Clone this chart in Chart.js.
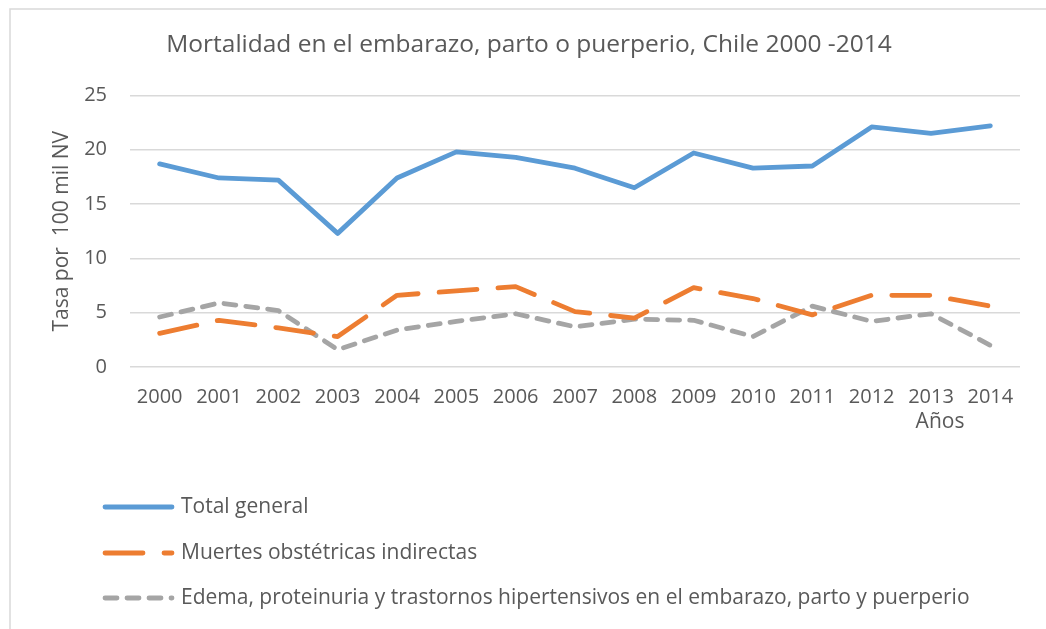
<!DOCTYPE html>
<html>
<head>
<meta charset="utf-8">
<script src="https://cdn.jsdelivr.net/npm/chart.js@4.4.1/dist/chart.umd.min.js"></script>
<style>
  body { margin: 0; background: #fff; }
  #wrap { width: 1046px; height: 629px; position: relative; }
</style>
</head>
<body>
<div id="wrap"><canvas id="chart"></canvas></div>
<script>
/* --------------- Data --------------------- */
const years = ["2000", "2001", "2002", "2003", "2004", "2005", "2006", "2007",
  "2008", "2009", "2010", "2011", "2012", "2013", "2014"];
const totalGeneral = [18.7, 17.4, 17.2, 12.3, 17.4, 19.8, 19.3, 18.3, 16.5, 19.7, 18.3, 18.5, 22.1, 21.5, 22.2];
const muertesIndirectas = [3.1, 4.3, 3.6, 2.8, 6.6, 7.0, 7.4, 5.1, 4.5, 7.3, 6.3, 4.8, 6.6, 6.6, 5.6];
const edemaHipertensivos = [4.6, 5.9, 5.2, 1.6, 3.4, 4.2, 4.9, 3.7, 4.4, 4.3, 2.8, 5.6, 4.2, 4.9, 2.0];
const yTicks = [0, 5, 10, 15, 20, 25];

const textColor = "#595959";
const gridColor = "#d9d9d9";
const fontFamily = "'Open Sans', 'Noto Sans', sans-serif";

/* --------------- Legend, border and axis title drawn on canvas --------------------- */
const extrasPlugin = {
  id: "extras",
  afterDraw(chart) {
    const ctx = chart.ctx;
    ctx.save();
    // frame (only left and top edges show in the crop)
    ctx.strokeStyle = gridColor;
    ctx.lineWidth = 1.5;
    ctx.beginPath();
    ctx.moveTo(10, 629);
    ctx.lineTo(10, 9);
    ctx.lineTo(1046, 9);
    ctx.stroke();

    // x axis title
    ctx.fillStyle = textColor;
    ctx.font = "21px " + fontFamily;
    ctx.textAlign = "center";
    ctx.textBaseline = "middle";
    ctx.fillText("Años", 940, 422);

    // legend, one entry per row
    const rows = [507, 553, 598];
    chart.data.datasets.forEach((ds, i) => {
      const y = rows[i];
      ctx.strokeStyle = ds.borderColor;
      ctx.lineWidth = ds.borderWidth;
      ctx.lineCap = "round";
      ctx.setLineDash(ds.borderDash || []);
      ctx.beginPath();
      ctx.moveTo(105, y);
      ctx.lineTo(172, y);
      ctx.stroke();
      ctx.setLineDash([]);
      ctx.fillStyle = textColor;
      ctx.textAlign = "left";
      ctx.fillText(ds.label, 181, y);
    });
    ctx.restore();
  },
};

/* --------------- Chart --------------------- */
const lineChart = new Chart(document.getElementById("chart"), {
  type: "line",
  plugins: [extrasPlugin],
  data: {
    labels: years,
    datasets: [
      {
        label: "Total general",
        data: totalGeneral,
        borderColor: "#5b9bd5",
        borderWidth: 4.8,
      },
      {
        label: "Muertes obstétricas indirectas",
        data: muertesIndirectas,
        borderColor: "#ed7d31",
        borderWidth: 4.8,
        borderDash: [38, 21],
      },
      {
        label: "Edema, proteinuria y trastornos hipertensivos en el embarazo, parto y puerperio",
        data: edemaHipertensivos,
        borderColor: "#a5a5a5",
        borderWidth: 4.8,
        borderDash: [12, 10],
      },
    ],
  },
  options: {
    responsive: true,
    maintainAspectRatio: false,
    animation: false,
    layout: { padding: { left: 38, right: 26, top: 10, bottom: 0 } },
    elements: {
      point: { radius: 0 },
      line: { tension: 0, borderCapStyle: "round", borderJoinStyle: "round" },
    },
    plugins: {
      legend: { display: false },
      tooltip: { enabled: false },
      title: {
        display: true,
        text: "Mortalidad en el embarazo, parto o puerperio, Chile 2000 -2014",
        color: textColor,
        font: { family: fontFamily, size: 24.5, weight: "normal" },
        padding: { top: 20, bottom: 36 },
      },
    },
    scales: {
      x: {
        offset: true,
        grid: { display: false, drawTicks: false },
        border: { display: false },
        ticks: {
          color: textColor,
          font: { family: fontFamily, size: 20 },
          padding: 18,
          maxRotation: 0,
          autoSkip: false,
        },
        afterFit: (scale) => { scale.height = 262; },
      },
      y: {
        min: 0,
        max: 25,
        afterBuildTicks: (scale) => { scale.ticks = yTicks.map((v) => ({ value: v })); },
        grid: { color: gridColor, lineWidth: 1.5, drawTicks: false },
        border: { display: false },
        ticks: {
          color: textColor,
          font: { family: fontFamily, size: 20 },
          padding: 23,
        },
        title: {
          display: true,
          text: "Tasa por  100 mil NV",
          color: textColor,
          font: { family: fontFamily, size: 21 },
          padding: { top: 11, bottom: 0 },
        },
        afterFit: (scale) => { scale.width = 92; },
      },
    },
  },
});
</script>
</body>
</html>
